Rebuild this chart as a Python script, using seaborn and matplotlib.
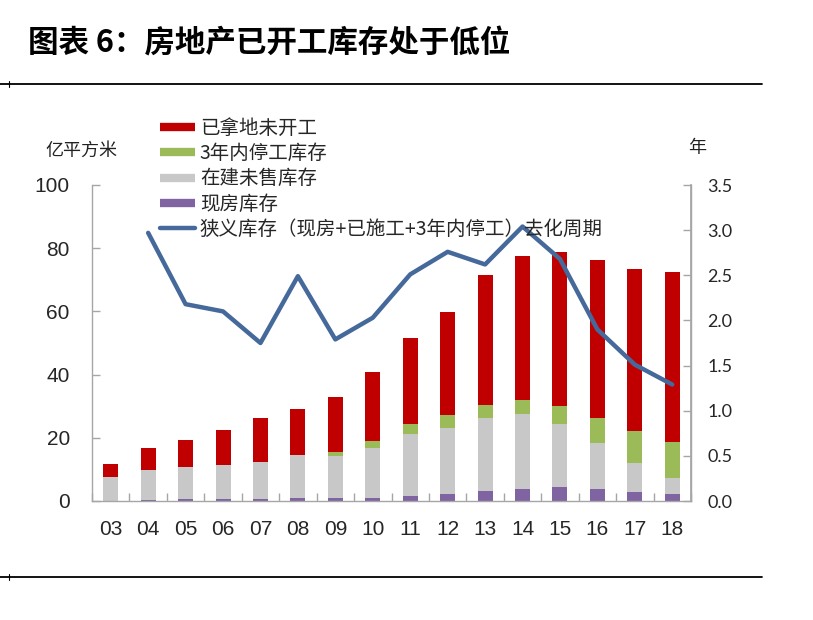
import numpy as np
import pandas as pd
import matplotlib
matplotlib.use("Agg")
import matplotlib.pyplot as plt
from matplotlib.lines import Line2D
import seaborn as sns

# ---------------- data ----------------
years = ["03", "04", "05", "06", "07", "08", "09", "10", "11", "12", "13", "14", "15", "16", "17", "18"]
xianfang = [0.1, 0.3, 0.6, 0.6, 0.5, 0.9, 0.9, 0.9, 1.5, 2.1, 3.1, 3.8, 4.3, 3.8, 2.8, 2.2]          # 现房库存
zaijian = [7.6, 9.6, 10.1, 10.9, 11.7, 13.6, 13.2, 16.0, 19.7, 21.1, 23.1, 23.6, 20.0, 14.6, 9.2, 5.0]  # 在建未售库存
tinggong = [0.0, 0.0, 0.0, 0.0, 0.0, 0.0, 1.3, 2.0, 3.1, 3.9, 4.1, 4.5, 5.7, 7.8, 10.0, 11.6]         # 3年内停工库存
weikaigong = [3.9, 6.8, 8.6, 11.0, 14.1, 14.7, 17.4, 21.8, 27.2, 32.6, 41.1, 45.5, 48.7, 50.0, 51.3, 53.8]  # 已拿地未开工
cycle = [np.nan, 2.97, 2.18, 2.10, 1.75, 2.49, 1.79, 2.03, 2.51, 2.76, 2.62, 3.04, 2.68, 1.90, 1.51, 1.29]  # 去化周期(年)

left_ticks = [0, 20, 40, 60, 80, 100]
right_ticks = [0.0, 0.5, 1.0, 1.5, 2.0, 2.5, 3.0, 3.5]

names = ["已拿地未开工", "3年内停工库存", "在建未售库存", "现房库存",
         "狭义库存（现房+已施工+3年内停工）去化周期"]
colors = ["#C00000", "#9BBB59", "#C8C8C8", "#8064A2"]
line_color = "#45699A"

# ---------------- style ----------------
sns.set_theme(style="white")
CJK = ["Noto Sans CJK SC", "DejaVu Sans"]
NUM = ["Liberation Sans", "Noto Sans CJK SC"]
plt.rcParams["font.family"] = CJK
plt.rcParams["axes.unicode_minus"] = False

W, H = 813, 620
fig = plt.figure(figsize=(W / 100, H / 100), dpi=100)
fig.patch.set_facecolor("white")

def fx(px):
    return px / W

def fy(py):
    return 1 - py / H

ax = fig.add_axes([fx(92), fy(501), fx(691) - fx(92), fy(185) - fy(501)])

df = pd.DataFrame({"year": years, "p": xianfang, "g": zaijian, "t": tinggong, "r": weikaigong})
df["c1"] = df["p"]
df["c2"] = df["c1"] + df["g"]
df["c3"] = df["c2"] + df["t"]
df["c4"] = df["c3"] + df["r"]

# stacked bars drawn as overlaid cumulative totals
for col, c in zip(["c4", "c3", "c2", "c1"], colors):
    sns.barplot(data=df, x="year", y=col, color=c, width=0.4, saturation=1,
                ax=ax, order=years, linewidth=0)

ax.set_xlim(-0.5, len(years) - 0.5)
ax.set_ylim(0, 100)
ax.set_yticks(left_ticks)
ax.set_xlabel("")
ax.set_ylabel("")

spine_c = "#A6A6A6"
for s in ["left", "bottom", "right"]:
    ax.spines[s].set_color(spine_c)
    ax.spines[s].set_linewidth(1.0)
ax.spines["top"].set_visible(False)

ax.tick_params(axis="y", direction="in", length=6, width=1, color=spine_c,
               left=True, pad=16, labelsize=15)
ax.tick_params(axis="x", bottom=False, pad=8, labelsize=15)
ax.set_xticks(np.arange(-0.5, len(years) - 0.5 + 0.01, 1.0), minor=True)
ax.tick_params(axis="x", which="minor", direction="in", length=6, width=1,
               color=spine_c, bottom=True)
for lab in ax.get_yticklabels() + ax.get_xticklabels():
    lab.set_family(NUM)

# right axis with line
ax2 = ax.twinx()
pos = np.arange(len(years))
sns.lineplot(x=pos, y=cycle, ax=ax2, color=line_color, linewidth=3.2,
             solid_capstyle="round", solid_joinstyle="round")
ax2.set_ylim(0, 3.5)
ax2.set_yticks(right_ticks)
ax2.set_yticklabels([f"{v:.1f}" for v in right_ticks])
ax2.set_xlim(-0.5, len(years) - 0.5)
ax2.spines["top"].set_visible(False)
ax2.spines["left"].set_visible(False)
ax2.spines["bottom"].set_visible(False)
ax2.spines["right"].set_color(spine_c)
ax2.tick_params(axis="y", direction="in", length=6, width=1, color=spine_c,
                right=True, pad=12, labelsize=13)
for lab in ax2.get_yticklabels():
    lab.set_family(["Lato", "DejaVu Sans"])
ax2.set_ylabel("")

# legend
handles = [Line2D([], [], color=c, lw=6, solid_capstyle="butt") for c in colors]
handles.append(Line2D([], [], color=line_color, lw=3.2, solid_capstyle="round"))
leg = ax2.legend(handles, names, loc="upper left",
                 bbox_to_anchor=(fx(160), fy(118)), bbox_transform=fig.transFigure,
                 frameon=False, fontsize=14, handlelength=1.8, handletextpad=0.25,
                 labelspacing=0.215, borderpad=0, borderaxespad=0)

# unit labels
fig.text(fx(45), fy(151), "亿平方米", fontsize=13, va="center", ha="left", color="#222222")
fig.text(fx(697), fy(148), "年", fontsize=13, va="center", ha="center", color="#222222")

# title
fig.text(fx(28), fy(44), "图表 6：房地产已开工库存处于低位", fontsize=22, fontweight="bold",
         va="center", ha="left", color="black")

# decorative rules
for yy in (84, 577):
    fig.add_artist(Line2D([fx(0), fx(762)], [fy(yy), fy(yy)], color="black", lw=1.3))
    fig.add_artist(Line2D([fx(9), fx(9)], [fy(yy - 3), fy(yy + 3)], color="black", lw=0.8))

fig.savefig("out.png", dpi=100, facecolor="white")
